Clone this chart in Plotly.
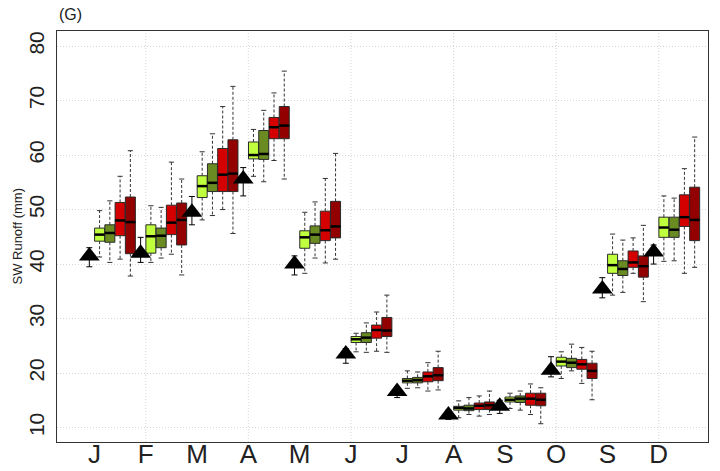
import plotly.graph_objects as go

months = ["J", "F", "M", "A", "M", "J", "J", "A", "S", "O", "S", "D"]
month_idx = list(range(len(months)))

# Observed values (black triangles) with error range
obs = [41.5, 42.0, 49.5, 55.6, 40.0, 23.5, 16.6, 12.3, 13.9, 20.5, 35.4, 42.2]
obs_lo = [39.5, 40.3, 47.2, 52.5, 38.0, 21.8, 15.5, 11.5, 12.6, 19.3, 33.8, 40.0]
obs_hi = [43.0, 44.9, 52.4, 57.7, 41.5, 24.5, 17.5, 13.2, 15.0, 23.0, 37.5, 43.5]

# Box series: lower whisker, q1, median, q3, upper whisker
s1_lo = [41.3, 40.3, 48.1, 56.1, 38.3, 23.9, 17.2, 11.8, 13.5, 19.0, 34.3, 40.5]
s1_q1 = [44.2, 42.0, 52.2, 59.3, 42.9, 25.6, 18.2, 13.2, 14.7, 21.3, 38.3, 44.9]
s1_md = [45.4, 45.1, 54.3, 60.0, 44.9, 26.2, 18.6, 13.6, 15.1, 22.1, 39.8, 46.7]
s1_q3 = [46.6, 47.2, 56.2, 62.4, 46.1, 26.7, 19.0, 13.9, 15.6, 22.9, 41.8, 48.6]
s1_hi = [49.8, 50.7, 60.6, 64.7, 49.5, 27.3, 20.4, 14.9, 16.3, 23.9, 45.5, 52.5]

s2_lo = [40.3, 41.1, 48.9, 55.1, 41.1, 23.8, 17.3, 12.4, 13.2, 20.4, 34.8, 40.6]
s2_q1 = [44.0, 43.0, 53.3, 59.2, 43.8, 25.6, 18.2, 13.1, 14.6, 21.0, 37.9, 44.9]
s2_md = [45.7, 45.2, 54.9, 60.2, 45.4, 26.5, 18.7, 13.5, 15.3, 21.9, 39.1, 46.3]
s2_q3 = [47.2, 46.6, 58.4, 64.5, 47.0, 27.4, 19.2, 14.1, 15.8, 22.7, 40.6, 48.6]
s2_hi = [51.6, 50.4, 63.9, 68.2, 51.4, 29.2, 20.2, 15.5, 16.7, 25.3, 44.4, 52.1]

s3_lo = [40.9, 41.8, 50.0, 59.0, 40.2, 24.0, 16.7, 12.1, 12.4, 18.1, 38.3, 38.3]
s3_q1 = [45.2, 45.4, 53.3, 63.0, 44.3, 26.4, 18.4, 13.3, 14.1, 20.7, 39.4, 46.9]
s3_md = [48.0, 47.6, 56.4, 65.1, 46.2, 27.9, 19.4, 14.0, 15.3, 21.6, 40.3, 48.6]
s3_q3 = [51.3, 50.8, 61.2, 66.9, 49.7, 28.8, 20.2, 14.5, 16.3, 22.5, 42.4, 52.7]
s3_hi = [56.1, 58.7, 68.9, 71.4, 55.7, 31.2, 21.9, 15.8, 18.0, 24.7, 44.8, 57.5]

s4_lo = [37.8, 38.0, 45.6, 55.6, 40.9, 23.8, 16.9, 12.4, 10.7, 15.1, 33.1, 39.4]
s4_q1 = [41.9, 43.5, 53.3, 63.0, 44.8, 26.7, 18.6, 13.3, 14.0, 19.0, 37.6, 44.3]
s4_md = [47.7, 48.1, 56.6, 65.4, 46.9, 27.8, 19.6, 14.1, 15.1, 20.4, 39.6, 48.1]
s4_q3 = [52.3, 51.2, 62.8, 68.9, 51.5, 30.2, 21.0, 14.7, 16.3, 21.8, 41.5, 54.1]
s4_hi = [60.8, 55.6, 72.6, 75.4, 60.3, 34.3, 24.0, 16.7, 17.3, 24.0, 47.1, 63.3]

series = [
    ("S1", "#c0ff3e", 0.10, s1_lo, s1_q1, s1_md, s1_q3, s1_hi),
    ("S2", "#698b22", 0.30, s2_lo, s2_q1, s2_md, s2_q3, s2_hi),
    ("S3", "#d40000", 0.50, s3_lo, s3_q1, s3_md, s3_q3, s3_hi),
    ("S4", "#930000", 0.70, s4_lo, s4_q1, s4_md, s4_q3, s4_hi),
]

BOXW = 0.195
CAPW = 0.05
MEDW = BOXW / 2
GRID = "#d6d6d6"
GRIDDASH = "1px,2px"

fig = go.Figure()

for name, col, off, lo, q1, md, q3, hi in series:
    xs = [i + off for i in month_idx]
    wx, wy = [], []
    cx, cy = [], []
    mx, my = [], []
    for x, a, b, c, d, e in zip(xs, lo, q1, md, q3, hi):
        wx += [x, x, None, x, x, None]
        wy += [d, e, None, b, a, None]
        cx += [x - CAPW, x + CAPW, None, x - CAPW, x + CAPW, None]
        cy += [e, e, None, a, a, None]
        mx += [x - MEDW, x + MEDW, None]
        my += [c, c, None]
    fig.add_trace(go.Scatter(x=wx, y=wy, mode="lines", showlegend=False,
                             line=dict(color="#333333", width=1, dash="3px,2px"),
                             hoverinfo="skip"))
    fig.add_trace(go.Scatter(x=cx, y=cy, mode="lines", showlegend=False,
                             line=dict(color="#333333", width=1),
                             hoverinfo="skip"))
    fig.add_trace(go.Box(x=xs, q1=q1, median=md, q3=q3, lowerfence=q1, upperfence=q3,
                         width=BOXW, whiskerwidth=0, fillcolor=col, name=name,
                         line=dict(color="#2a2a2a", width=1), boxpoints=False,
                         showlegend=False))
    fig.add_trace(go.Scatter(x=mx, y=my, mode="lines", showlegend=False,
                             line=dict(color="black", width=2.5),
                             hoverinfo="skip"))

obs_x = [i - 0.10 for i in month_idx]
fig.add_trace(go.Scatter(
    x=obs_x, y=obs, mode="markers", showlegend=False,
    marker=dict(symbol="triangle-up", size=18, color="black"),
    error_y=dict(type="data", symmetric=False,
                 array=[h - o for h, o in zip(obs_hi, obs)],
                 arrayminus=[o - l for o, l in zip(obs, obs_lo)],
                 color="black", thickness=1, width=3),
))

# vertical dotted grid lines at every other month
for i in month_idx[1::2]:
    fig.add_shape(type="line", xref="x", yref="paper", x0=i, x1=i, y0=0, y1=1,
                  line=dict(color=GRID, width=1, dash=GRIDDASH), layer="below")

FONT = "Arial, Liberation Sans, sans-serif"

fig.update_layout(
    width=720, height=471,
    margin=dict(l=57, r=12, t=31, b=29),
    paper_bgcolor="white", plot_bgcolor="white",
    boxmode="overlay",
    font=dict(family=FONT, color="#222222"),
    xaxis=dict(range=[-0.73, 11.96], tickmode="array", tickvals=month_idx,
               ticktext=months, showgrid=False, zeroline=False, automargin=False,
               showline=True, linecolor="#333333", linewidth=1, mirror=True,
               ticks="", tickfont=dict(size=26, family=FONT, color="#222222"),
               ticklabelstandoff=-11),
    yaxis=dict(range=[7.35, 82.76], tickmode="array",
               tickvals=[10, 20, 30, 40, 50, 60, 70, 80], automargin=False,
               showgrid=True, gridcolor=GRID, griddash=GRIDDASH, gridwidth=1,
               zeroline=False, showline=True, linecolor="#333333", linewidth=1,
               mirror=True, ticks="", tickangle=-90,
               tickfont=dict(size=21, family=FONT, color="#222222"),
               ticklabelstandoff=4),
    annotations=[
        dict(text="SW Runoff (mm)", textangle=-90, xref="paper", yref="paper",
             x=-0.0614, y=0.5, xanchor="center", yanchor="middle",
             showarrow=False, font=dict(size=13, family=FONT, color="#222222")),
        dict(text="(G)", xref="paper", yref="paper", x=0.0, y=1.041,
             xanchor="left", yanchor="middle", showarrow=False,
             font=dict(size=16, family=FONT, color="#222222")),
    ],
)

fig.write_html("out.html")
